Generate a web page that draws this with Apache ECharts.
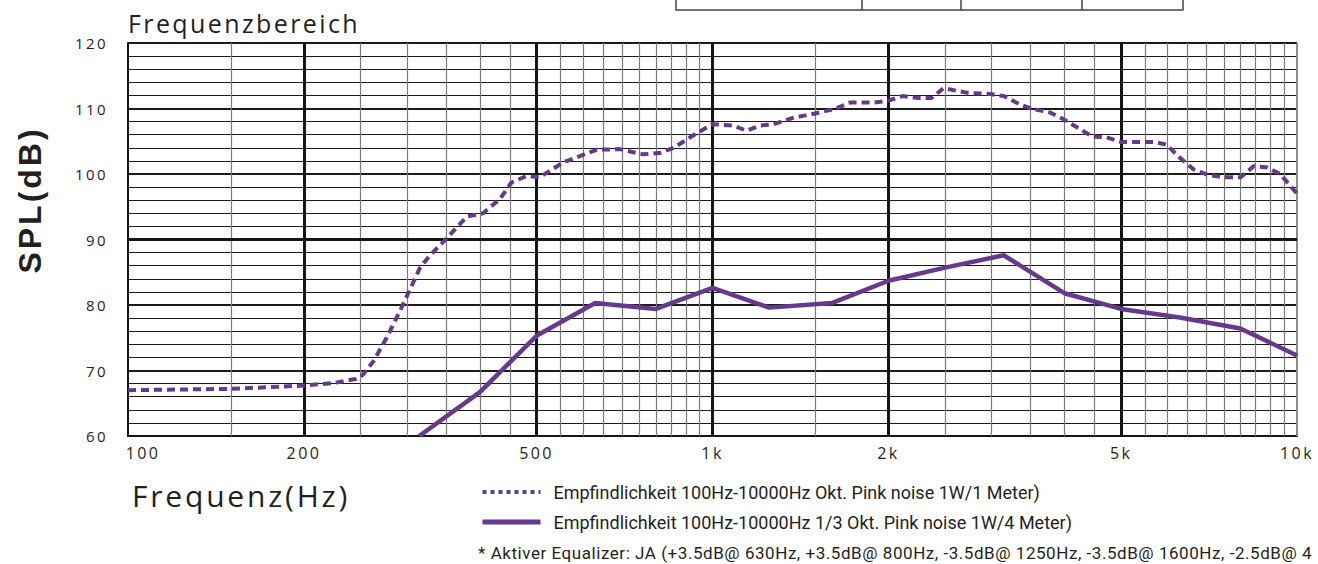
<!DOCTYPE html>
<html>
<head>
<meta charset="utf-8">
<script src="https://cdn.jsdelivr.net/npm/echarts@6/dist/echarts.min.js"></script>
<style>
html,body{margin:0;padding:0;background:#ffffff;overflow:hidden;}
#c{width:1318px;height:564px;}
</style>
</head>
<body>
<div id="c"></div>
<script>
// ---------- data ----------
const seriesNames = [
  'Empfindlichkeit 100Hz-10000Hz Okt. Pink noise 1W/1 Meter)',
  'Empfindlichkeit 100Hz-10000Hz 1/3 Okt. Pink noise 1W/4 Meter)'
];
const octFreqs = [100,150,200,225,245,252,263,277,292,303,316,328,351,380,405,433,453,481,506,556,634,694,760,811,858,939,1001,1085,1144,1206,1271,1376,1490,1614,1720,1886,2000,2115,2255,2371,2484,2727,2990,3150,3360,3535,3780,3980,4245,4470,4720,4990,5260,5700,5975,6300,6660,7020,7500,8010,8430,8900,9360,10000];
const octSPL   = [67.0,67.2,67.7,68.1,68.7,69.3,71.4,75.0,79.1,82.2,85.7,87.5,90.2,93.5,94.0,96.2,98.7,99.7,99.5,101.8,103.7,103.8,103.0,103.2,104.0,106.2,107.6,107.4,106.6,107.4,107.6,108.6,109.2,109.9,110.9,110.9,111.2,111.9,111.6,111.6,113.1,112.4,112.2,111.9,110.6,109.9,109.4,108.4,106.9,105.7,105.6,104.9,104.9,104.9,104.5,102.5,100.7,99.9,99.5,99.5,101.2,101.0,100.0,97.0];
const thirdFreqs = [315,400,500,630,800,1000,1250,1600,2000,2500,3150,4000,5000,6300,8000,10000];
const thirdSPL   = [60.0,66.7,75.3,80.3,79.4,82.6,79.6,80.3,83.7,85.7,87.6,81.8,79.4,78.1,76.4,72.3];
const xTickValues = [100,200,500,1000,2000,5000,10000];
const xTickLabels = ['100','200','500','1k','2k','5k','10k'];
const majorGridFreqs = [200,500,1000,2000,5000];
const minorGridFreqs = [150,250,300,350,400,450,550,600,650,700,750,800,850,900,950,1500,2500,3000,3500,4000,4500,5500,6000,6500,7000,7500,8000,8500,9000,9500];
const yMin = 60, yMax = 120, yStep = 10;
const titleText = 'Frequenzbereich';
const xName = 'Frequenz(Hz)';
const yName = 'SPL(dB)';
// footnote as far as it is visible in the original (it runs off the right edge there)
const footnote = '* Aktiver Equalizer: JA (+3.5dB@ 630Hz, +3.5dB@ 800Hz, -3.5dB@ 1250Hz, -3.5dB@ 1600Hz, -2.5dB@ 4';

// ---------- styles ----------
const PURPLE = '#653a8e';
const INK = '#231f20';
const TICKFONT = '"Open Sans", "DejaVu Sans", sans-serif';
const LEGFONT = '"Liberation Sans Narrow", "Roboto", sans-serif';

const gridLines = [];
minorGridFreqs.forEach(f => gridLines.push({xAxis: f, lineStyle: {color: '#7a7a7a', width: 1.2, type: 'solid'}}));
const labelFor = f => { const i = xTickValues.indexOf(f); return i >= 0 ? xTickLabels[i] : null; };
const mkLabel = (txt, extra) => Object.assign({
  show: true, position: 'start', formatter: txt, color: INK,
  fontSize: 16, fontFamily: TICKFONT, distance: 9
}, extra || {});
xTickValues.forEach(f => {
  let ls;
  if (majorGridFreqs.indexOf(f) >= 0) ls = {color: '#141414', width: 3, type: 'solid'};
  else if (f === xTickValues[0]) ls = {color: '#141414', width: 2, type: 'solid'};
  else ls = {color: '#8a8a8a', width: 2, type: 'solid'};
  gridLines.push({xAxis: f, lineStyle: ls,
    label: mkLabel(labelFor(f), f === xTickValues[0] ? {padding: [0, 0, 0, 30]} : {})});
});
gridLines.push({yAxis: 90, lineStyle: {color: '#141414', width: 3, type: 'solid'}});

const chart = echarts.init(document.getElementById('c'), null, {renderer: 'svg'});
chart.setOption({
  animation: false,
  backgroundColor: '#ffffff',
  title: [
    {text: titleText, left: 128, top: 10, padding: 0,
     textStyle: {fontFamily: TICKFONT, fontSize: 25, fontWeight: 'normal', color: INK}},
    {text: xName, left: 132, top: 480, padding: 0,
     textStyle: {fontFamily: TICKFONT, fontSize: 30, fontWeight: 'normal', color: INK}}
  ],
  grid: {left: 128, right: 21, top: 43, bottom: 128, show: false},
  legend: {
    orient: 'vertical', left: 480, top: 483, padding: 0,
    itemWidth: 58, itemHeight: 17, itemGap: 12,
    selectedMode: false,
    textStyle: {fontFamily: LEGFONT, fontSize: 18, color: INK, padding: [0, 0, 0, 8]},
    data: [
      {name: seriesNames[0], itemStyle: {opacity: 0}, lineStyle: {type: [4, 4], width: 4, color: PURPLE}},
      {name: seriesNames[1], itemStyle: {opacity: 0}, lineStyle: {type: 'solid', width: 5, color: PURPLE}}
    ]
  },
  xAxis: {
    type: 'log', logBase: 10, min: 100, max: 10000,
    axisLabel: {show: false}, axisTick: {show: false},
    splitLine: {show: false}, minorSplitLine: {show: false},
    axisLine: {show: true, lineStyle: {color: '#141414', width: 2}}
  },
  yAxis: {
    type: 'value', min: yMin, max: yMax, interval: yStep,
    axisLabel: {color: INK, fontSize: 15, fontFamily: TICKFONT, margin: 20},
    axisTick: {show: false},
    axisLine: {show: true, lineStyle: {color: '#141414', width: 2}},
    splitLine: {show: true, lineStyle: {color: '#1a1a1a', width: 2}},
    minorTick: {show: false, splitNumber: 5},
    minorSplitLine: {show: true, lineStyle: {color: '#1a1a1a', width: 1}}
  },
  graphic: [
    {type: 'text', x: 30, y: 200, rotation: Math.PI / 2,
     style: {text: yName, align: 'center', verticalAlign: 'middle',
             font: 'bold 32px "Liberation Sans", Arial, sans-serif', fill: INK}},
    {type: 'text', left: 478, top: 544,
     style: {text: footnote, font: '17px ' + LEGFONT, fill: INK}},
    {type: 'group', children: [
      {type: 'rect', shape: {x: 676, y: -12, width: 507, height: 22}, style: {fill: 'none', stroke: '#444', lineWidth: 1.5}},
      {type: 'line', shape: {x1: 862, y1: -12, x2: 862, y2: 10}, style: {stroke: '#444', lineWidth: 1.5}},
      {type: 'line', shape: {x1: 961, y1: -12, x2: 961, y2: 10}, style: {stroke: '#444', lineWidth: 1.5}},
      {type: 'line', shape: {x1: 1082, y1: -12, x2: 1082, y2: 10}, style: {stroke: '#444', lineWidth: 1.5}}
    ]}
  ],
  series: [
    {name: '__grid', type: 'line', data: [], z: 1, silent: true,
     markLine: {silent: true, symbol: ['none', 'none'], animation: false,
                label: {show: false}, emphasis: {disabled: true}, data: gridLines}},
    {name: seriesNames[0], type: 'line', z: 5, symbol: 'none', silent: true,
     data: octFreqs.map((f, i) => [f, octSPL[i]]),
     itemStyle: {color: PURPLE},
     lineStyle: {color: PURPLE, width: 4, type: [8, 5], cap: 'butt'}},
    {name: seriesNames[1], type: 'line', z: 5, symbol: 'none', silent: true,
     data: thirdFreqs.map((f, i) => [f, thirdSPL[i]]),
     itemStyle: {color: PURPLE},
     lineStyle: {color: PURPLE, width: 4.5, type: 'solid'}}
  ]
});

// letter spacing (tracking) like the printed original
function applySpacing() {
  document.querySelectorAll('#c svg text').forEach(t => {
    const s = (t.textContent || '').trim();
    let ls = null;
    if (s === titleText) ls = 2.4;
    else if (s === xName) ls = 2.8;
    else if (s === yName) ls = 3;
    else if (s === footnote) ls = 0.55;
    else if (/^\d+k?$/.test(s)) ls = 2.4;
    if (ls !== null) t.setAttribute('letter-spacing', ls);
  });
}
applySpacing();
chart.on('finished', applySpacing);
setTimeout(applySpacing, 50);
setTimeout(applySpacing, 300);
</script>
</body>
</html>
